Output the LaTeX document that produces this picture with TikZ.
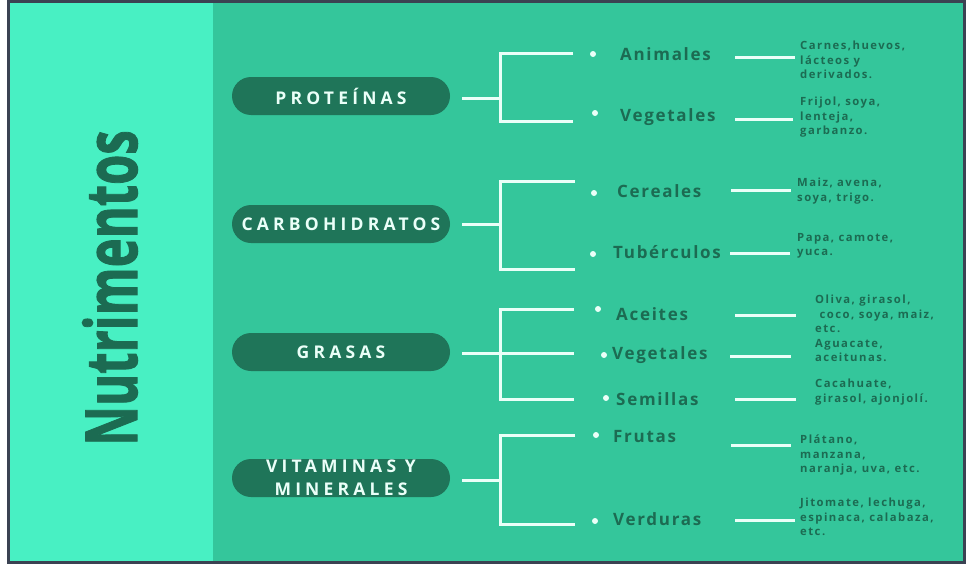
\documentclass[tikz,border=0pt]{standalone}
\usepackage{fontspec}
\setmainfont{Open Sans}
\newfontfamily\titlefont{Open Sans}[BoldFeatures={FakeBold=1.6}]
\newfontfamily\pillfont{Open Sans}[LetterSpace=24]
\newfontfamily\labfont{Open Sans}[LetterSpace=10]
\newfontfamily\detfont{Open Sans}[LetterSpace=13]
\definecolor{framec}{HTML}{3B4252}
\definecolor{lightc}{HTML}{48F0C3}
\definecolor{mainc}{HTML}{34C69B}
\definecolor{pillc}{HTML}{1F7559}
\definecolor{darkc}{HTML}{1C6B52}
\definecolor{linec}{HTML}{EAFFF8}
\tikzset{
  pill/.style={rounded corners=19pt, fill=pillc, minimum width=218pt, minimum height=38pt, inner sep=0pt,
    text=linec, font=\pillfont\bfseries\fontsize{17.5}{23}\selectfont, align=center},
  conn/.style={draw=linec, line width=3pt},
  dot/.style={circle, fill=linec, minimum size=6pt, inner sep=0pt},
  lab/.style={anchor=west, text=darkc, font=\labfont\bfseries\fontsize{17}{20}\selectfont, inner sep=0pt},
  det/.style={anchor=north west, text=darkc, align=left, font=\detfont\bfseries\fontsize{11.3}{14.5}\selectfont, inner sep=0pt}
}
\begin{document}
\begin{tikzpicture}[x=1pt,y=-1pt]
\useasboundingbox (0,0) rectangle (967,565);
\fill[white] (0,0) rectangle (967,565);
\fill[framec] (7,0) rectangle (966,564);
\fill[mainc] (10,3) rectangle (963,561);
\fill[lightc] (10,3) rectangle (213,561);
\node[rotate=90, text=darkc, font=\titlefont\bfseries\fontsize{72}{80}\selectfont, inner sep=0pt] (title) at (110,288) {\scalebox{0.68}[1]{Nutrimentos}};

% pills
\node[pill] (pro) at (341,96) {PROTEÍNAS};
\node[pill] (car) at (341,224) {CARBOHIDRATOS};
\node[pill] (gra) at (341,352) {GRASAS};
\node[pill] (vit) at (341,478) {VITAMINAS Y\\MINERALES};

% group 1
\coordinate (proS) at (462,98); \coordinate (proT) at (500,53); \coordinate (proB) at (500,121);
\coordinate (proT2) at (573,53); \coordinate (proB2) at (573,121);
\draw[conn] (proS) -- (proS -| proT);
\draw[conn] (proT2) -- (proT) -- (proB) -- (proB2);
\node[dot] (d1) at (593,54) {};
\node[dot] (d2) at (595,113) {};
\node[lab] (l1) at (620,54) {Animales};
\node[lab] (l2) at (620,117) {Vegetales};
\coordinate (a1) at (735,57); \coordinate (b1) at (795,57);
\coordinate (a2) at (735,119); \coordinate (b2) at (793,119);
\draw[conn] (a1) -- (b1); \draw[conn] (a2) -- (b2);
\node[det] (t1) at (800,41) {Carnes,huevos,\\lácteos y\\derivados.};
\node[det] (t2) at (800,97) {Frijol, soya,\\lenteja,\\garbanzo.};

% group 2
\coordinate (carS) at (462,224); \coordinate (carT) at (500,181); \coordinate (carB) at (500,269);
\coordinate (carT2) at (575,181); \coordinate (carB2) at (575,269);
\draw[conn] (carS) -- (carS -| carT);
\draw[conn] (carT2) -- (carT) -- (carB) -- (carB2);
\node[dot] (d3) at (594,193) {};
\node[dot] (d4) at (593,254) {};
\node[lab] (l3) at (617,191) {Cereales};
\node[lab] (l4) at (613,252) {Tubérculos};
\coordinate (a3) at (731,190); \coordinate (b3) at (791,190);
\coordinate (a4) at (730,253); \coordinate (b4) at (790,253);
\draw[conn] (a3) -- (b3); \draw[conn] (a4) -- (b4);
\node[det] (t3) at (797,178) {Maiz, avena,\\soya, trigo.};
\node[det] (t4) at (797,233) {Papa, camote,\\yuca.};

% group 3
\coordinate (graS) at (462,353); \coordinate (graT) at (500,309); \coordinate (graB) at (500,399);
\coordinate (graT2) at (574,309); \coordinate (graM2) at (574,353); \coordinate (graB2) at (574,399);
\draw[conn] (graS) -- (graM2);
\draw[conn] (graT2) -- (graT) -- (graB) -- (graB2);
\node[dot] (d5) at (598,309) {};
\node[dot] (d6) at (604,355) {};
\node[dot] (d7) at (606,398) {};
\node[lab] (l5) at (616,314) {Aceites};
\node[lab] (l6) at (612,355) {Vegetales};
\node[lab] (l7) at (616,399) {Semillas};
\coordinate (a5) at (735,315); \coordinate (b5) at (796,315);
\coordinate (a6) at (730,356); \coordinate (b6) at (791,356);
\coordinate (a7) at (735,399); \coordinate (b7) at (796,399);
\draw[conn] (a5) -- (b5); \draw[conn] (a6) -- (b6); \draw[conn] (a7) -- (b7);
\node[det] (t5) at (815,295) {Oliva, girasol,\\\ coco, soya, maiz,\\etc.};
\node[det] (t6) at (815,339) {Aguacate,\\aceitunas.};
\node[det] (t7) at (815,379) {Cacahuate,\\girasol, ajonjolí.};

% group 4
\coordinate (vitS) at (462,480); \coordinate (vitT) at (500,435); \coordinate (vitB) at (500,524);
\coordinate (vitT2) at (575,435); \coordinate (vitB2) at (575,524);
\draw[conn] (vitS) -- (vitS -| vitT);
\draw[conn] (vitT2) -- (vitT) -- (vitB) -- (vitB2);
\node[dot] (d8) at (596,435) {};
\node[dot] (d9) at (595,521) {};
\node[lab] (l8) at (613,437) {Frutas};
\node[lab] (l9) at (613,519) {Verduras};
\coordinate (a8) at (731,445); \coordinate (b8) at (791,445);
\coordinate (a9) at (735,520); \coordinate (b9) at (795,520);
\draw[conn] (a8) -- (b8); \draw[conn] (a9) -- (b9);
\node[det] (t8) at (800,435) {Plátano,\\manzana,\\naranja, uva, etc.};
\node[det] (t9) at (800,498) {Jitomate, lechuga,\\espinaca, calabaza,\\etc.};
\end{tikzpicture}
\end{document}
